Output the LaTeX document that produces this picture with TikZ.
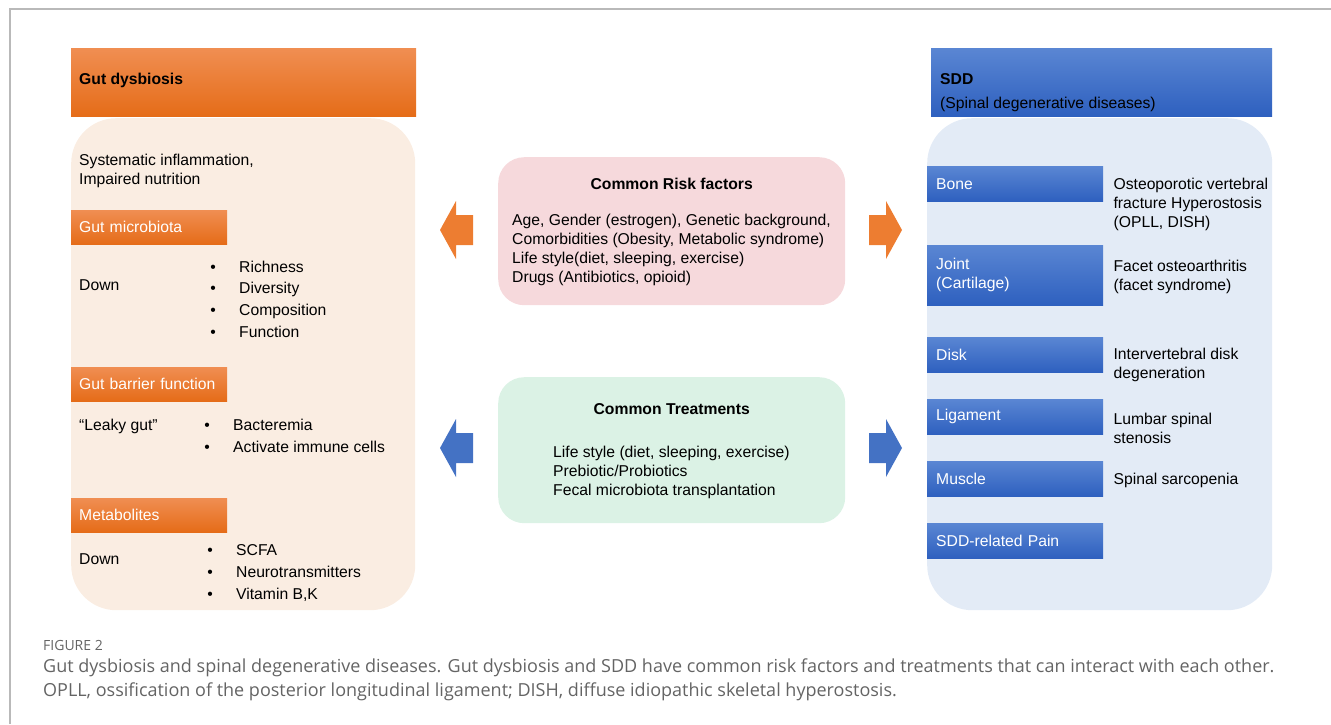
\documentclass[tikz,border=0pt]{standalone}
\usepackage{fontspec}
\setmainfont{Liberation Sans}
\newfontfamily\capfont{Open Sans}
\usetikzlibrary{positioning}

\definecolor{gutorange}{RGB}{237,125,49}
\definecolor{orangetop}{RGB}{240,142,82}
\definecolor{orangebot}{RGB}{229,108,24}
\definecolor{bluetop}{RGB}{90,134,211}
\definecolor{bluebot}{RGB}{46,96,191}
\definecolor{sddblue}{RGB}{68,114,196}
\definecolor{gutbg}{RGB}{250,237,226}
\definecolor{sddbg}{RGB}{227,235,246}
\definecolor{riskbg}{RGB}{246,217,220}
\definecolor{treatbg}{RGB}{219,242,229}
\definecolor{capgray}{RGB}{100,100,100}

\begin{document}
\begin{tikzpicture}[x=1pt,y=-1pt,
    every node/.style={inner sep=0pt,font=\fontsize{15.7}{19}\selectfont},
    ohead/.style={top color=orangetop,bottom color=orangebot,text=white,anchor=north west},
    bhead/.style={top color=bluetop,bottom color=bluebot,text=white,anchor=north west},
    osub/.style={ohead,text width=140pt,inner xsep=8pt,minimum height=34pt,align=left},
    bsub/.style={bhead,text width=158pt,inner xsep=9pt,minimum height=35pt,align=left},
    body/.style={anchor=north west,rounded corners=45pt,minimum width=344pt,minimum height=492pt},
    midbox/.style={anchor=north west,rounded corners=26pt,minimum width=347pt},
    txt/.style={anchor=west,align=left,yshift=-2pt},
    item/.style={anchor=west,text height=11.5pt,text depth=3.3pt,yshift=-2pt}]
  \useasboundingbox (0,0) rectangle (1331,724);
  \draw[gray!55,line width=1.2pt] (10,724) -- (10,9) -- (1331,9);

  % left column
  \node[ohead,minimum width=345pt,minimum height=68pt] (gut) at (71,48) {};
  \node[txt,right=8pt of gut.west,yshift=4pt] (gutt) {\bfseries Gut dysbiosis};
  \node[body,fill=gutbg] (gutbody) at (71,118) {};
  \node[txt] (sys) at (79,169) {Systematic inflammation,\\Impaired nutrition};

  \node[osub] (micro) at (71,210) {Gut microbiota};
  \node[txt] (down1) at (79,283) {Down};
  \foreach \t [count=\i] in {Richness,Diversity,Composition,Function}{
    \node[item] (mb\i) at (239,244.3+21.7*\i) {\t};
    \node[anchor=base] (mbd\i) at ([xshift=-26pt]mb\i.base west) {\textbullet};
  }

  \node[osub] (barrier) at (71,367) {Gut barrier function};
  \node[txt] (leaky) at (79,424) {“Leaky gut”};
  \foreach \t [count=\i] in {Bacteremia,Activate immune cells}{
    \node[item] (gb\i) at (233,402+22*\i) {\t};
    \node[anchor=base] (gbd\i) at ([xshift=-26pt]gb\i.base west) {\textbullet};
  }

  \node[osub] (metab) at (71,498) {Metabolites};
  \node[txt] (down2) at (79,557) {Down};
  \foreach \t [count=\i] in {SCFA,Neurotransmitters,{Vitamin B,K}}{
    \node[item] (mt\i) at (236,527+22*\i) {\t};
    \node[anchor=base] (mtd\i) at ([xshift=-26pt]mt\i.base west) {\textbullet};
  }

  % middle
  \node[midbox,fill=riskbg,minimum height=148pt] (risk) at (498,157) {};
  \node (riskt) at ([yshift=-27pt]risk.north) {\bfseries Common Risk factors};
  \node[txt] (riskl) at ([xshift=14pt,yshift=-90.5pt]risk.north west)
    {Age, Gender (estrogen), Genetic background,\\Comorbidities (Obesity, Metabolic syndrome)\\Life style(diet, sleeping, exercise)\\Drugs (Antibiotics, opioid)};

  \node[midbox,fill=treatbg,minimum height=146pt] (treat) at (498,377) {};
  \node (treatt) at ([yshift=-32pt]treat.north) {\bfseries Common Treatments};
  \node[txt] (treatl) at ([xshift=55pt,yshift=-93pt]treat.north west)
    {Life style (diet, sleeping, exercise)\\Prebiotic/Probiotics\\Fecal microbiota transplantation};

  \foreach \c/\y in {gutorange/230,sddblue/448}{
    \foreach \s in {1,-1}{
      \fill[\c] ({\s*231+671},\y) -- ({\s*215+671},\y-29) -- ({\s*215+671},\y-15)
        -- ({\s*198+671},\y-15) -- ({\s*198+671},\y+15) -- ({\s*215+671},\y+15)
        -- ({\s*215+671},\y+29) -- cycle;
    }
  }

  % right column
  \node[bhead,minimum width=341pt,minimum height=68pt] (sdd) at (931,48) {};
  \node[txt,right=9pt of sdd.west,yshift=-8pt,font=\fontsize{15.7}{24}\selectfont] (sddt)
    {\bfseries SDD\\(Spinal degenerative diseases)};
  \node[body,fill=sddbg,minimum width=345pt] (sddbody) at (927,118) {};

  \node[bsub] (bone) at (927,166) {Bone};
  \node[txt,right=10pt of bone.east,yshift=-18.5pt] (bonet)
    {Osteoporotic vertebral\\fracture Hyperostosis\\(OPLL, DISH)};
  \node[bsub,minimum height=60pt] (joint) at (927,245) {Joint\\(Cartilage)};
  \node[txt,right=10pt of joint.east] (jointt) {Facet osteoarthritis\\(facet syndrome)};
  \node[bsub] (disk) at (927,337) {Disk};
  \node[txt,right=10pt of disk.east,yshift=-8pt] (diskt) {Intervertebral disk\\degeneration};
  \node[bsub] (lig) at (927,399) {Ligament};
  \node[txt,right=10pt of lig.east,yshift=-10pt] (ligt) {Lumbar spinal\\stenosis};
  \node[bsub] (muscle) at (927,461) {Muscle};
  \node[txt,right=10pt of muscle.east] (musclet) {Spinal sarcopenia};
  \node[bsub] (pain) at (927,523) {SDD-related Pain};

  % caption
  \node[txt,text=capgray,font=\capfont\fontsize{14}{14}\selectfont,yshift=2pt] (fig) at (43,645) {FIGURE 2};
  \node[txt,text=capgray,font=\capfont\fontsize{18}{24}\selectfont,yshift=2pt] (cap) at (43,680)
    {Gut dysbiosis and spinal degenerative diseases. Gut dysbiosis and SDD have common risk factors and treatments that can interact with each other.\\OPLL, ossification of the posterior longitudinal ligament; DISH, diffuse idiopathic skeletal hyperostosis.};
\end{tikzpicture}
\end{document}
